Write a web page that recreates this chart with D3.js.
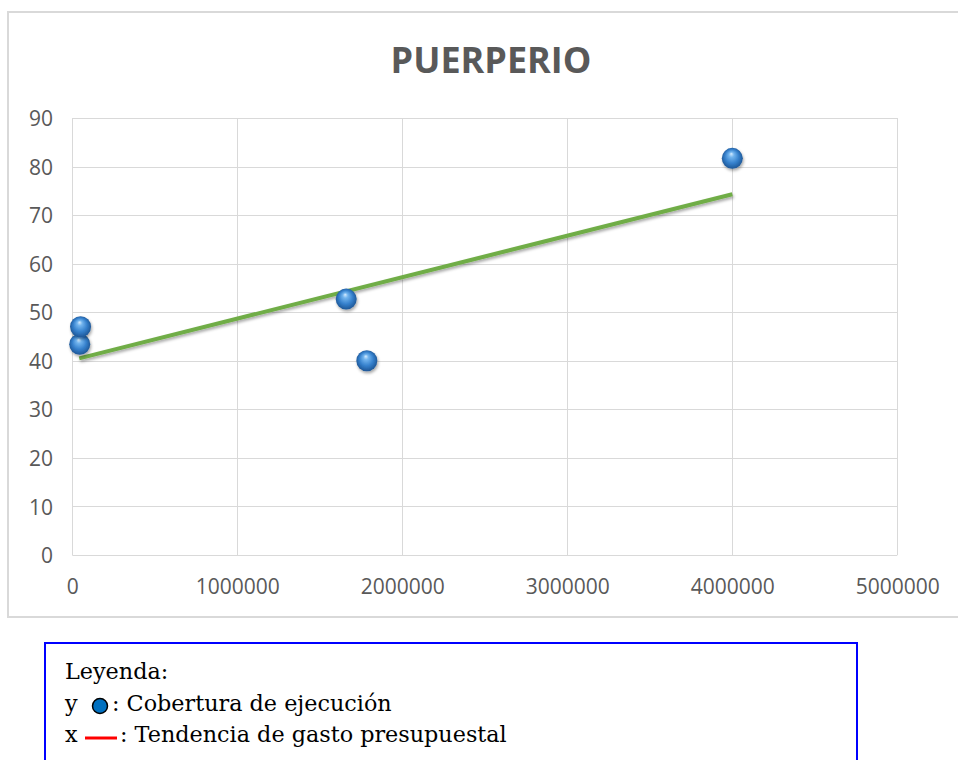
<!DOCTYPE html>
<html>
<head>
<meta charset="utf-8">
<script src="https://cdn.jsdelivr.net/npm/d3@7"></script>
<style>
  html, body { margin: 0; padding: 0; background: #fff; }
  svg { display: block; }
</style>
</head>
<body>
<svg id="chart" width="958" height="760"></svg>
<script>
// Gasto presupuestal (x) vs. cobertura de ejecución (y)
const gasto = [45000, 50000, 1660000, 1785000, 4000000];
const cobertura = [43.4, 47.0, 52.7, 40.0, 81.7];

// Trend line end points (x, y)
const trendX = [42000, 4000000];
const trendY = [40.5, 74.3];

const xTicks = [0, 1000000, 2000000, 3000000, 4000000, 5000000];
const yTicks = [0, 10, 20, 30, 40, 50, 60, 70, 80, 90];

const title = "PUERPERIO";
const legendLines = ["Leyenda:", ": Cobertura de ejecución", ": Tendencia de gasto presupuestal"];

const svg = d3.select("#chart");
const defs = svg.append("defs");

// glossy sphere gradient
const grad = defs.append("radialGradient")
  .attr("id", "sphere").attr("cx", "50%").attr("cy", "50%").attr("r", "55%")
  .attr("fx", "45%").attr("fy", "28%");
grad.append("stop").attr("offset", "0%").attr("stop-color", "#d6ecff");
grad.append("stop").attr("offset", "22%").attr("stop-color", "#72b4ee");
grad.append("stop").attr("offset", "60%").attr("stop-color", "#3580cc");
grad.append("stop").attr("offset", "100%").attr("stop-color", "#1a4f8c");

const shadow = defs.append("filter").attr("id", "shadow")
  .attr("x", "-30%").attr("y", "-30%").attr("width", "160%").attr("height", "180%");
shadow.append("feDropShadow").attr("dx", 1).attr("dy", 2)
  .attr("stdDeviation", 1.5).attr("flood-color", "#000").attr("flood-opacity", 0.35);

// outer chart frame
svg.append("rect")
  .attr("x", 8).attr("y", 12).attr("width", 960).attr("height", 605)
  .attr("fill", "#fff").attr("stroke", "#d9d9d9").attr("stroke-width", 2);

const x = d3.scaleLinear().domain([0, 5000000]).range([72.3, 897.3]);
const y = d3.scaleLinear().domain([0, 90]).range([555, 118]);

// gridlines
svg.append("g").selectAll("line.h").data(yTicks).join("line")
  .attr("x1", x(0)).attr("x2", x(5000000))
  .attr("y1", d => Math.round(y(d)) + 0.5).attr("y2", d => Math.round(y(d)) + 0.5)
  .attr("stroke", "#d9d9d9").attr("stroke-width", 1);
svg.append("g").selectAll("line.v").data(xTicks).join("line")
  .attr("y1", y(0)).attr("y2", y(90))
  .attr("x1", d => Math.round(x(d)) + 0.5).attr("x2", d => Math.round(x(d)) + 0.5)
  .attr("stroke", "#d9d9d9").attr("stroke-width", 1);

// axes labels
const yAxis = d3.axisLeft(y).tickValues(yTicks).tickSize(0).tickPadding(0);
const gy = svg.append("g").attr("transform", "translate(53,0)").call(yAxis);
gy.select(".domain").remove();
gy.selectAll("text")
  .attr("font-family", "'Open Sans', sans-serif").attr("font-size", 21)
  .attr("fill", "#595959").attr("dy", "0.36em");

const xAxis = d3.axisBottom(x).tickValues(xTicks).tickSize(0).tickPadding(0)
  .tickFormat(d3.format("d"));
const gx = svg.append("g").attr("transform", "translate(0,594)").call(xAxis);
gx.select(".domain").remove();
gx.selectAll("text")
  .attr("font-family", "'Open Sans', sans-serif").attr("font-size", 21)
  .attr("fill", "#595959").attr("dy", 0);

// title
svg.append("text").attr("x", 491).attr("y", 73).attr("text-anchor", "middle")
  .attr("font-family", "'Open Sans', sans-serif").attr("font-weight", 700)
  .attr("font-size", 36).attr("fill", "#595959").text(title);

// trend line
const line = d3.line().x(d => x(d[0])).y(d => y(d[1]));
svg.append("path")
  .datum(d3.zip(trendX, trendY))
  .attr("d", line)
  .attr("fill", "none").attr("stroke", "#70ad47").attr("stroke-width", 4)
  .attr("filter", "url(#shadow)");

// points
svg.append("g").selectAll("circle").data(d3.zip(gasto, cobertura)).join("circle")
  .attr("cx", d => x(d[0])).attr("cy", d => y(d[1])).attr("r", 10.5)
  .attr("fill", "url(#sphere)").attr("filter", "url(#shadow)");

// legend box
svg.append("rect").attr("x", 45).attr("y", 643).attr("width", 812).attr("height", 140)
  .attr("fill", "#fff").attr("stroke", "#0000ff").attr("stroke-width", 2);

const lf = "'DejaVu Serif', serif";
const fs = 22.3;
svg.append("text").attr("x", 65).attr("y", 679).attr("font-family", lf)
  .attr("font-size", fs).attr("fill", "#000").text(legendLines[0]);
svg.append("text").attr("x", 65).attr("y", 711).attr("font-family", lf)
  .attr("font-size", fs).attr("fill", "#000").text("y");
svg.append("circle").attr("cx", 100).attr("cy", 706).attr("r", 7.5)
  .attr("fill", "#0070c0").attr("stroke", "#000").attr("stroke-width", 1.5);
svg.append("text").attr("x", 112).attr("y", 711).attr("font-family", lf)
  .attr("font-size", fs).attr("fill", "#000").text(legendLines[1]);
svg.append("text").attr("x", 65).attr("y", 742).attr("font-family", lf)
  .attr("font-size", fs).attr("fill", "#000").text("x");
svg.append("line").attr("x1", 85).attr("x2", 117).attr("y1", 738).attr("y2", 738)
  .attr("stroke", "#ff0000").attr("stroke-width", 3);
svg.append("text").attr("x", 120).attr("y", 742).attr("font-family", lf)
  .attr("font-size", fs).attr("fill", "#000").text(legendLines[2]);
</script>
</body>
</html>
